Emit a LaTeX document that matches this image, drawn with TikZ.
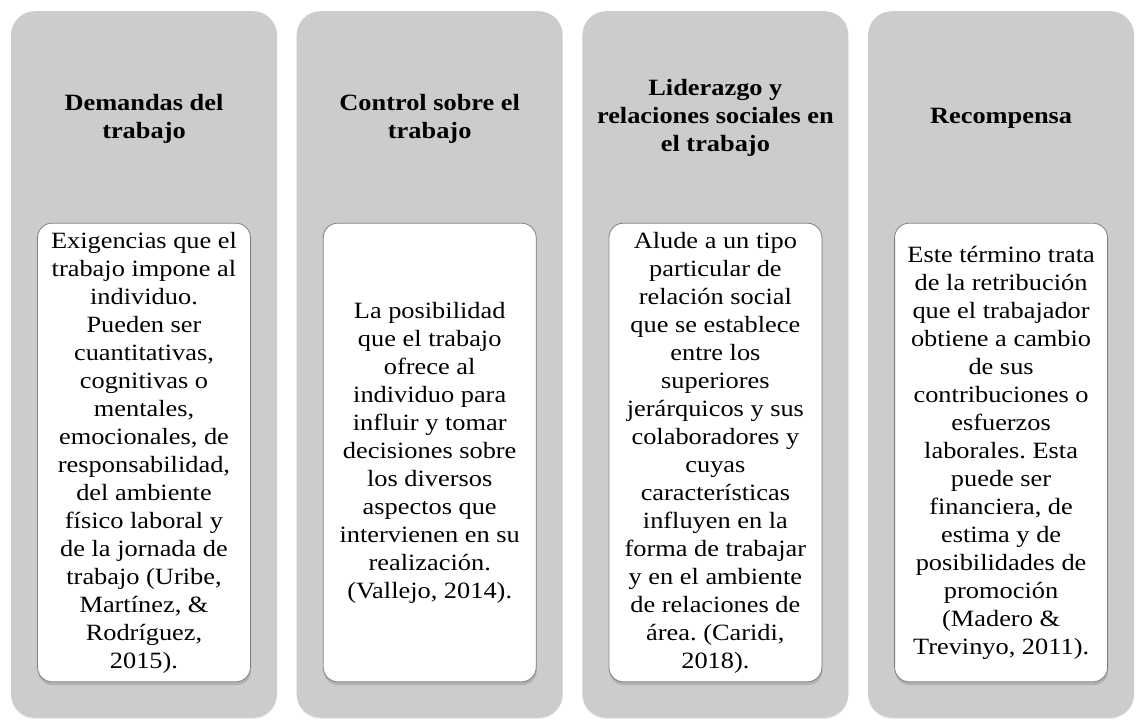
\documentclass[tikz,border=0pt]{standalone}
\usepackage{fontspec}
\setmainfont{Liberation Serif}[FakeStretch=1.13]
\usetikzlibrary{shadows}
\frenchspacing

\begin{document}
\begin{tikzpicture}[
            x=0.75pt,
            y=-0.75pt,
            column/.style={
                rectangle,
                rounded corners=18pt,
                minimum width=199.5pt,
                minimum height=530pt,
                fill=black!20,
                draw=none,
                drop shadow={shadow xshift=0pt, shadow yshift=-1pt, opacity=0.12}
            },
            heading/.style={
                align=center,
                font=\bfseries\fontsize{17.5}{21}\selectfont
            },
            descbox/.style={
                rectangle,
                rounded corners=11pt,
                minimum width=159.75pt,
                minimum height=344pt,
                align=center,
                draw=black!50,
                line width=0.6pt,
                fill=white,
                font=\fontsize{17.5}{21}\selectfont,
                drop shadow={shadow xshift=0.4pt, shadow yshift=-2.5pt, opacity=0.35}
            }
        ]
            \useasboundingbox (0,0) rectangle (1136,720);

            % Define columns
            \node[column] (col1) at (144,364.5) {};
            \node[column] (col2) at (429.7,364.5) {};
            \node[column] (col3) at (715.4,364.5) {};
            \node[column] (col4) at (1001.1,364.5) {};

            % Define headings
            \node[heading] (head1) at (144,119) {Demandas del\\trabajo};
            \node[heading] (head2) at (429.7,119) {Control sobre el\\trabajo};
            \node[heading] (head3) at (715.4,118) {Liderazgo y\\relaciones sociales en\\el trabajo};
            \node[heading] (head4) at (1001.1,118) {Recompensa};

            % Define descriptions
            \node[descbox] (desc1) at (144,452.5) {Exigencias que el\\trabajo impone al\\individuo.\\Pueden ser\\cuantitativas,\\cognitivas o\\mentales,\\emocionales, de\\responsabilidad,\\del ambiente\\físico laboral y\\de la jornada de\\trabajo (Uribe,\\Martínez, \&\\Rodríguez,\\2015).};
            \node[descbox] (desc2) at (429.7,452.5) {La posibilidad\\que el trabajo\\ofrece al\\individuo para\\influir y tomar\\decisiones sobre\\los diversos\\aspectos que\\intervienen en su\\realización.\\(Vallejo, 2014).};
            \node[descbox] (desc3) at (715.4,452.5) {Alude a un tipo\\particular de\\relación social\\que se establece\\entre los\\superiores\\jerárquicos y sus\\colaboradores y\\cuyas\\características\\influyen en la\\forma de trabajar\\y en el ambiente\\de relaciones de\\área. (Caridi,\\2018).};
            \node[descbox] (desc4) at (1001.1,452.5) {Este término trata\\de la retribución\\que el trabajador\\obtiene a cambio\\de sus\\contribuciones o\\esfuerzos\\laborales. Esta\\puede ser\\financiera, de\\estima y de\\posibilidades de\\promoción\\(Madero \&\\Trevinyo, 2011).};
        \end{tikzpicture}
\end{document}
